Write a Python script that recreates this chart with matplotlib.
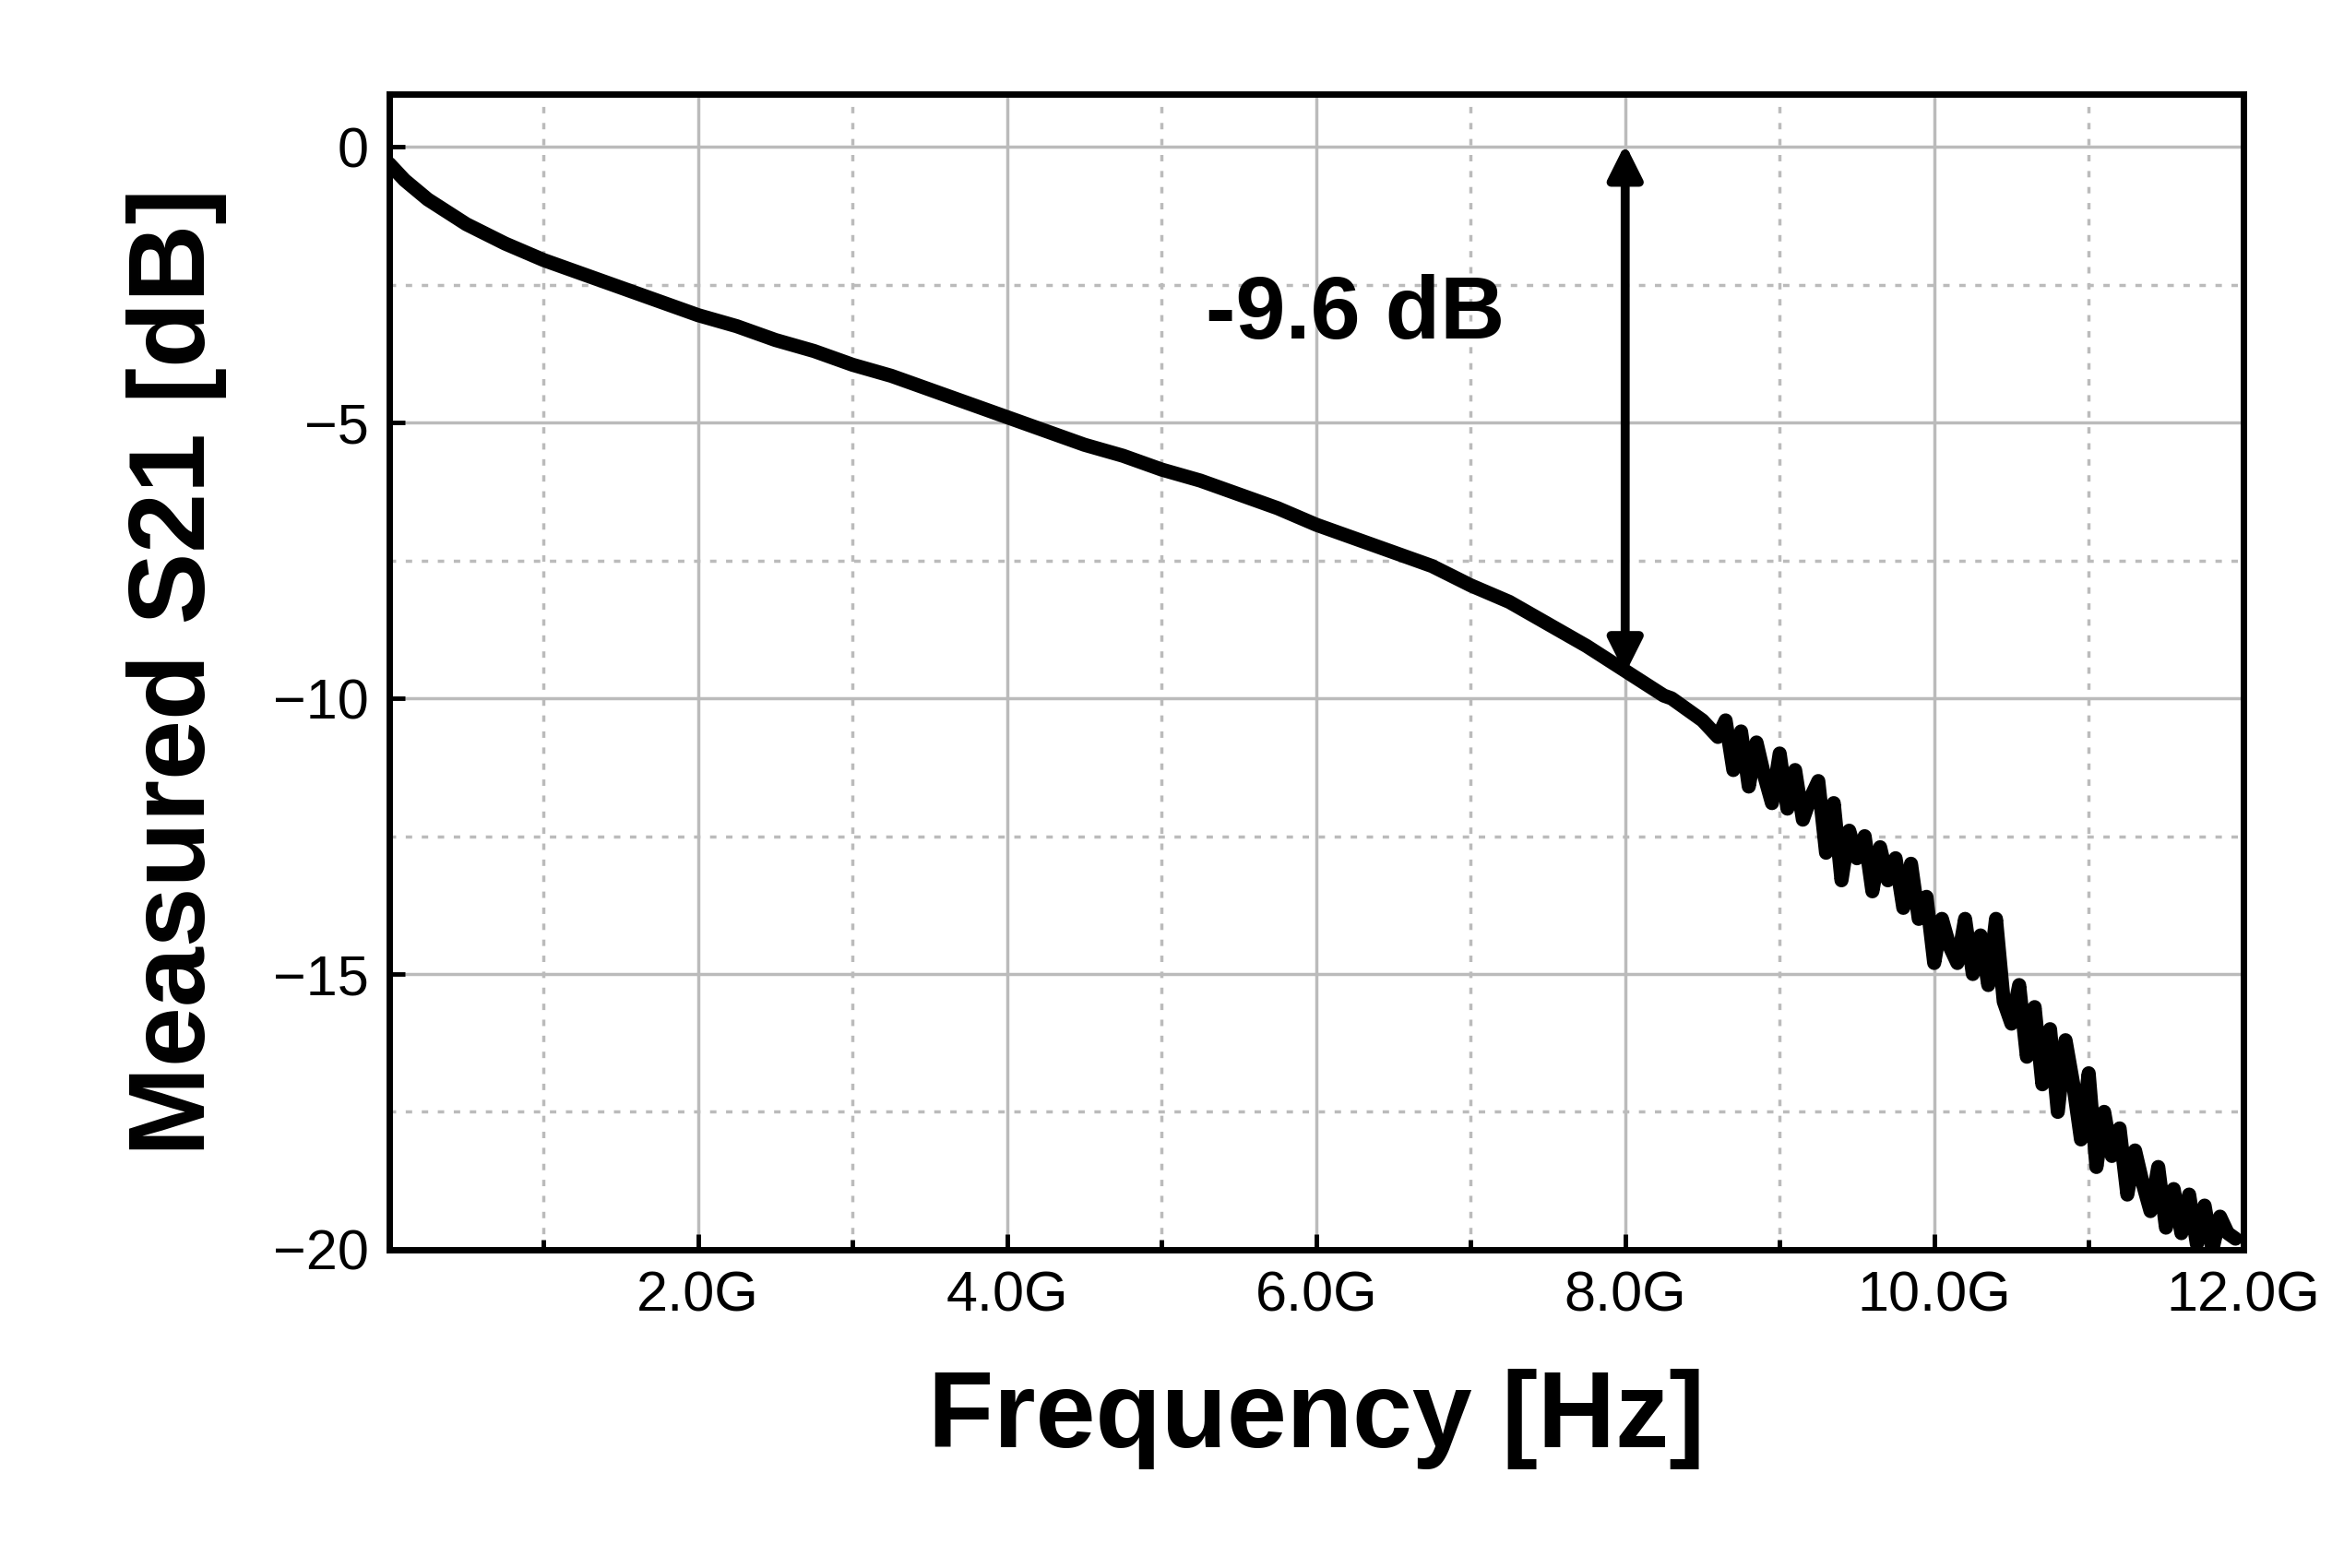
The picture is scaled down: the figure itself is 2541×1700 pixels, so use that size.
import numpy as np
import matplotlib.pyplot as plt
from matplotlib.ticker import MultipleLocator, FuncFormatter

plt.rcParams['font.family'] = ['Liberation Sans', 'DejaVu Sans']

# smooth part (GHz, dB)
f_smooth = [0.0, 0.1, 0.25, 0.5, 0.75, 1.0, 1.25, 1.5, 1.75, 2.0, 2.25, 2.5, 2.75, 3.0,
            3.25, 3.5, 3.75, 4.0, 4.25, 4.5, 4.75, 5.0, 5.25, 5.5, 5.75, 6.0, 6.25,
            6.5, 6.75, 7.0, 7.25, 7.5, 7.75, 8.0, 8.25]
s_smooth = [-0.3, -0.6, -0.95, -1.4, -1.75, -2.05, -2.3, -2.55, -2.8, -3.05, -3.25, -3.5,
            -3.7, -3.95, -4.15, -4.4, -4.65, -4.9, -5.15, -5.4, -5.6, -5.85, -6.05, -6.3,
            -6.55, -6.85, -7.1, -7.35, -7.6, -7.95, -8.25, -8.65, -9.05, -9.5, -9.95]
# noisy tail
f_noisy = [8.3, 8.4, 8.5, 8.6, 8.65, 8.7, 8.75, 8.8, 8.85, 8.9, 8.95, 9.0, 9.05, 9.1,
           9.15, 9.2, 9.25, 9.3, 9.35, 9.4, 9.45, 9.5, 9.55, 9.6, 9.65, 9.7, 9.75,
           9.8, 9.85, 9.9, 9.95, 10.0, 10.05, 10.1, 10.15, 10.2, 10.25, 10.3, 10.35,
           10.4, 10.45, 10.5, 10.55, 10.6, 10.65, 10.7, 10.75, 10.8, 10.85, 10.9,
           10.95, 11.0, 11.05, 11.1, 11.15, 11.2, 11.25, 11.3, 11.35, 11.4, 11.45,
           11.5, 11.55, 11.6, 11.65, 11.7, 11.75, 11.8, 11.85, 11.9, 11.95]
s_noisy = [-10.0, -10.2, -10.4, -10.7, -10.4, -11.3, -10.6, -11.6, -10.8, -11.4, -11.9,
           -11.0, -12.0, -11.3, -12.2, -11.8, -11.5, -12.8, -11.9, -13.3, -12.4, -12.9,
           -12.5, -13.5, -12.7, -13.3, -12.9, -13.8, -13.0, -14.0, -13.6, -14.8, -14.0,
           -14.5, -14.8, -14.0, -15.0, -14.3, -15.2, -14.0, -15.5, -15.9, -15.2, -16.5,
           -15.6, -17.0, -16.0, -17.5, -16.2, -17.0, -18.0, -16.8, -18.5, -17.5, -18.3,
           -17.8, -19.0, -18.2, -18.8, -19.3, -18.5, -19.6, -18.9, -19.7, -19.0, -19.9,
           -19.2, -20.0, -19.4, -19.7, -19.8]

freq = np.array(f_smooth + f_noisy) * 1e9
s21 = np.array(s_smooth + s_noisy)

fig = plt.figure(figsize=(25.41, 17), dpi=100)
ax = fig.add_axes([0.166, 0.203, 0.791, 0.737])
ax.plot(freq, s21, color='black', lw=11, solid_joinstyle='round', solid_capstyle='round')

ax.set_xlim(0, 12e9)
ax.set_ylim(-20, 0.96)
ax.xaxis.set_major_locator(MultipleLocator(2e9))
ax.xaxis.set_minor_locator(MultipleLocator(1e9))
ax.yaxis.set_major_locator(MultipleLocator(5))
ax.yaxis.set_minor_locator(MultipleLocator(2.5))
ax.xaxis.set_major_formatter(FuncFormatter(lambda v, p: '' if v == 0 else f'{v/1e9:.1f}G'))
ax.yaxis.set_major_formatter(FuncFormatter(lambda v, p: f'{v:.0f}'.replace('-', '\u2212')))
ax.grid(which='major', color='#bbbbbb', lw=2.5)
ax.grid(which='minor', color='#bbbbbb', lw=2.5, linestyle=(0, (2, 3)))
ax.tick_params(which='both', direction='in', labelsize=44, width=3.5)
ax.tick_params(which='major', length=12, pad=16)
ax.tick_params(which='minor', length=8)
ax.tick_params(axis='y', which='minor', length=0)
for sp in ax.spines.values():
    sp.set_linewidth(5)

ax.set_xlabel('Frequency [Hz]', fontsize=84, fontweight='bold', labelpad=36)
ax.set_ylabel('Measured S21 [dB]', fontsize=84, fontweight='bold', labelpad=36)

ax.annotate('', xy=(8e9, 0.1), xytext=(8e9, -9.6),
            arrowprops=dict(arrowstyle='<|-|>', color='black', lw=7, mutation_scale=55))
ax.text(6.25e9, -3.05, '-9.6 dB', fontsize=70, fontweight='bold', ha='center', va='center')

fig.savefig('out.png')
